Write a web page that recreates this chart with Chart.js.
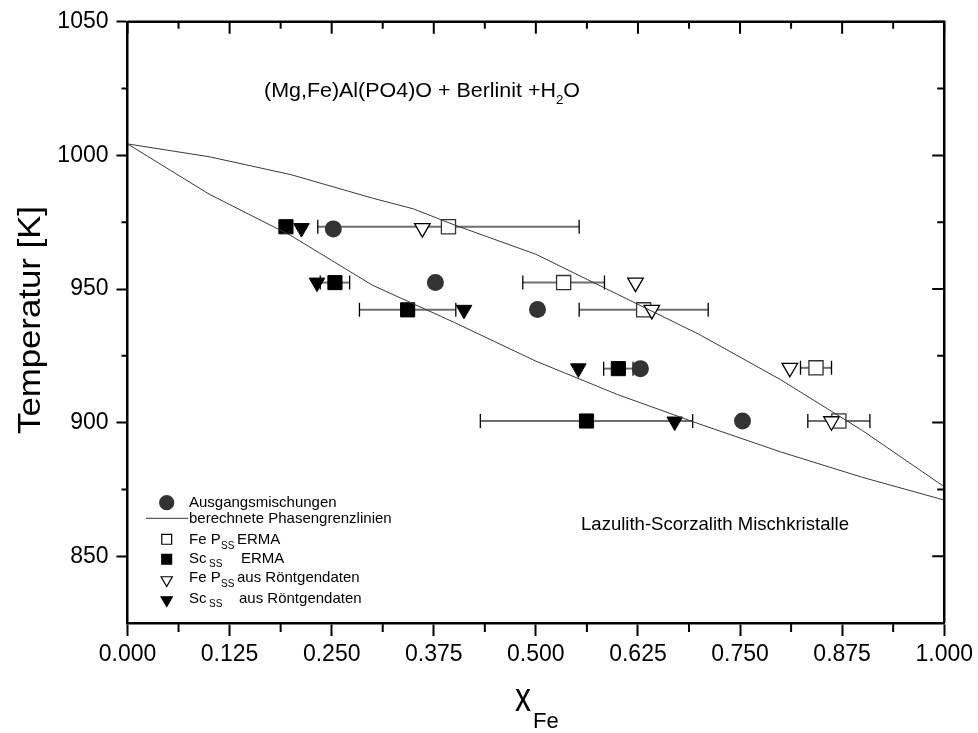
<!DOCTYPE html>
<html>
<head>
<meta charset="utf-8">
<script src="https://cdn.jsdelivr.net/npm/chart.js@4.4.1/dist/chart.umd.min.js"></script>
<style>
  html, body { margin: 0; padding: 0; background: #fff; }
  #wrap { width: 978px; height: 733px; }
</style>
</head>
<body>
<div id="wrap"><canvas id="myChart" width="978" height="733"></canvas></div>
<script>
// Ausgangsmischungen (Kreise)
const mixX = [0.252, 0.377, 0.502, 0.628, 0.753];
const mixT = [972.5, 952.4, 942.3, 920.2, 900.6];

// FeP_ss ERMA (offene Quadrate) mit Fehlerbalken
const fepErmaX = [0.393, 0.534, 0.632, 0.843, 0.871];
const fepErmaT = [973.3, 952.4, 942.2, 920.5, 900.6];
const fepErmaErr = [0.160, 0.050, 0.079, 0.019, 0.038];

// Sc_ss ERMA (volle Quadrate) mit Fehlerbalken
const scErmaX = [0.194, 0.254, 0.343, 0.601, 0.562];
const scErmaT = [973.3, 952.4, 942.2, 920.2, 900.6];
const scErmaErr = [0, 0.018, 0.059, 0.018, 0.130];

// aus Röntgendaten (Dreiecke)
const fepXrdX = [0.361, 0.622, 0.642, 0.811, 0.862];
const fepXrdT = [972.8, 952.4, 942.2, 920.5, 900.5];
const scXrdX = [0.213, 0.232, 0.412, 0.552, 0.670];
const scXrdT = [972.8, 952.4, 942.2, 920.3, 900.4];

// berechnete Phasengrenzlinien
const upperX = [0, 0.1, 0.2, 0.3, 0.35, 0.4, 0.5, 0.6, 0.7, 0.8, 0.9, 1.0];
const upperT = [1004.3, 999.5, 992.8, 984, 980, 974, 963, 948, 933, 916, 897, 876];
const lowerX = [0, 0.1, 0.2, 0.25, 0.3, 0.4, 0.5, 0.6, 0.7, 0.8, 0.9, 1.0];
const lowerT = [1004.3, 985.5, 970, 960.7, 951.4, 937.5, 923, 910.5, 899.5, 889, 879.5, 871];

const xTicks = [0, 0.125, 0.25, 0.375, 0.5, 0.625, 0.75, 0.875, 1.0];
const yTicks = [850, 900, 950, 1000, 1050];

const FONT = '"Liberation Sans", Arial, sans-serif';

function pts(xs, ys) {
    return xs.map((x, i) => ({ x: x, y: ys[i] }));
}

// text with subscripts; parts = [[text, isSub], ...]
function richText(ctx, parts, x, y, size, width) {
    ctx.save();
    ctx.textBaseline = 'alphabetic';
    ctx.textAlign = 'left';
    ctx.fillStyle = '#000';
    let total = 0;
    parts.forEach(p => {
        ctx.font = (p[1] ? size * 0.62 : size) + 'px ' + FONT;
        total += ctx.measureText(p[0]).width;
    });
    const sx = width ? width / total : 1;
    ctx.translate(x, y);
    ctx.scale(sx, 1);
    let cx = 0;
    parts.forEach(p => {
        ctx.font = (p[1] ? size * 0.62 : size) + 'px ' + FONT;
        ctx.fillText(p[0], cx, p[1] ? size * 0.38 : 0);
        cx += ctx.measureText(p[0]).width;
    });
    ctx.restore();
}

function txt(ctx, s, x, y, size) {
    ctx.font = size + 'px ' + FONT;
    ctx.fillText(s, x, y);
}

const errorBars = {
    id: 'errorBars',
    beforeDatasetsDraw(chart) {
        const ctx = chart.ctx, xs = chart.scales.x, ys = chart.scales.y;
        const draw = (X, T, E) => {
            X.forEach((x, i) => {
                if (!E[i]) return;
                const y = ys.getPixelForValue(T[i]);
                const x0 = xs.getPixelForValue(x - E[i]);
                const x1 = xs.getPixelForValue(x + E[i]);
                ctx.strokeStyle = '#6e6e6e';
                ctx.lineWidth = 2;
                ctx.beginPath(); ctx.moveTo(x0, y); ctx.lineTo(x1, y); ctx.stroke();
                ctx.strokeStyle = '#000';
                ctx.lineWidth = 1.3;
                ctx.beginPath();
                ctx.moveTo(x0, y - 7); ctx.lineTo(x0, y + 7);
                ctx.moveTo(x1, y - 7); ctx.lineTo(x1, y + 7);
                ctx.stroke();
            });
        };
        ctx.save();
        draw(fepErmaX, fepErmaT, fepErmaErr);
        draw(scErmaX, scErmaT, scErmaErr);
        ctx.restore();
    }
};

const decor = {
    id: 'decor',
    afterDraw(chart) {
        const ctx = chart.ctx, xs = chart.scales.x, ys = chart.scales.y;
        const a = chart.chartArea;
        ctx.save();
        ctx.strokeStyle = '#000';
        // top and right frame
        ctx.lineWidth = 2.5;
        ctx.beginPath();
        ctx.moveTo(a.left, a.top); ctx.lineTo(a.right, a.top); ctx.lineTo(a.right, a.bottom);
        ctx.stroke();
        ctx.lineWidth = 2;
        ctx.beginPath();
        for (let v = 0; v <= 1.0001; v += 0.0625) {
            const px = xs.getPixelForValue(v);
            const major = Math.abs(v / 0.125 - Math.round(v / 0.125)) < 1e-6;
            ctx.moveTo(px, a.top); ctx.lineTo(px, a.top + (major ? 12 : 7));
            if (!major) { ctx.moveTo(px, a.bottom); ctx.lineTo(px, a.bottom + 9); }
        }
        for (let t = 850; t <= 1050; t += 25) {
            const py = ys.getPixelForValue(t);
            const major = t % 50 === 0;
            ctx.moveTo(a.right, py); ctx.lineTo(a.right - (major ? 12 : 7), py);
            if (!major) { ctx.moveTo(a.left, py); ctx.lineTo(a.left - 6, py); }
        }
        ctx.stroke();

        ctx.fillStyle = '#000';
        // annotations
        richText(ctx, [['(Mg,Fe)Al(PO4)O + Berlinit +H', false], ['2', true], ['O', false]], 264, 97, 19.5, 316);
        richText(ctx, [['Lazulith-Scorzalith Mischkristalle', false]], 581, 530, 18.5, 268);

        // axis titles
        ctx.save();
        ctx.translate(40, 320);
        ctx.rotate(-Math.PI / 2);
        richText(ctx, [['Temperatur [K]', false]], -114, 0, 32, 228);
        ctx.restore();

        ctx.save();
        ctx.translate(515, 711);
        ctx.scale(0.8, 1);
        ctx.font = '40px ' + FONT;
        ctx.fillText('x', 0, 0);
        ctx.restore();
        txt(ctx, 'Fe', 533, 728, 22);

        // legend
        const H = Chart.helpers;
        const mk = (style, r, rot, fill, stroke, x, y) => {
            ctx.fillStyle = fill; ctx.strokeStyle = stroke;
            ctx.lineWidth = 1.2;
            H.drawPoint(ctx, { pointStyle: style, radius: r, rotation: rot, borderWidth: 1.2 }, x, y);
        };
        mk('circle', 7, 0, '#333', '#333', 166.7, 502.7);
        ctx.strokeStyle = '#333'; ctx.lineWidth = 1;
        ctx.beginPath(); ctx.moveTo(146, 518.3); ctx.lineTo(188, 518.3); ctx.stroke();
        mk('rect', 7, 0, '#fff', '#000', 166.7, 539.3);
        mk('rect', 7, 0, '#000', '#000', 166.7, 559.3);
        mk('triangle', 6.5, 180, '#fff', '#000', 166.7, 580);
        mk('triangle', 6.5, 180, '#000', '#000', 166.7, 600);

        ctx.fillStyle = '#000';
        ctx.textAlign = 'left';
        ctx.textBaseline = 'alphabetic';
        const ls = 15, ss = 10;
        txt(ctx, 'Ausgangsmischungen', 189, 507, ls);
        txt(ctx, 'berechnete Phasengrenzlinien', 189, 523, ls);
        txt(ctx, 'Fe P', 189, 544, ls); txt(ctx, 'SS', 221, 548.5, ss); txt(ctx, 'ERMA', 237, 544, ls);
        txt(ctx, 'Sc', 189, 563, ls); txt(ctx, 'SS', 209, 567, ss); txt(ctx, 'ERMA', 241, 563, ls);
        txt(ctx, 'Fe P', 189, 582, ls); txt(ctx, 'SS', 221, 586.5, ss); txt(ctx, 'aus Röntgendaten', 237, 582, ls);
        txt(ctx, 'Sc', 189, 603, ls); txt(ctx, 'SS', 209, 607, ss); txt(ctx, 'aus Röntgendaten', 239, 603, ls);
        ctx.restore();
    }
};

const ctx = document.getElementById('myChart').getContext('2d');
new Chart(ctx, {
    type: 'scatter',
    data: {
        datasets: [
            {
                label: 'berechnete Phasengrenzlinien (oben)',
                data: pts(upperX, upperT),
                showLine: true, borderColor: '#3a3a3a', borderWidth: 1,
                pointRadius: 0, tension: 0, order: 0
            },
            {
                label: 'berechnete Phasengrenzlinien (unten)',
                data: pts(lowerX, lowerT),
                showLine: true, borderColor: '#3a3a3a', borderWidth: 1,
                pointRadius: 0, tension: 0, order: 0
            },
            {
                label: 'FeP ss aus Röntgendaten',
                data: pts(fepXrdX, fepXrdT),
                pointStyle: 'triangle', rotation: 180, pointRadius: 9,
                backgroundColor: '#fff', borderColor: '#000', borderWidth: 1.3, order: 1
            },
            {
                label: 'Sc ss aus Röntgendaten',
                data: pts(scXrdX, scXrdT),
                pointStyle: 'triangle', rotation: 180, pointRadius: 9,
                backgroundColor: '#000', borderColor: '#000', borderWidth: 1, order: 2
            },
            {
                label: 'FeP ss ERMA',
                data: pts(fepErmaX, fepErmaT),
                pointStyle: 'rect', pointRadius: 10,
                backgroundColor: '#fff', borderColor: '#333', borderWidth: 1.3, order: 3
            },
            {
                label: 'Sc ss ERMA',
                data: pts(scErmaX, scErmaT),
                pointStyle: 'rect', pointRadius: 10,
                backgroundColor: '#000', borderColor: '#000', borderWidth: 1, order: 4
            },
            {
                label: 'Ausgangsmischungen',
                data: pts(mixX, mixT),
                pointStyle: 'circle', pointRadius: 8.5,
                backgroundColor: '#333', borderColor: '#333', borderWidth: 0, order: 5
            }
        ]
    },
    options: {
        responsive: false,
        animation: false,
        devicePixelRatio: 1,
        events: [],
        layout: { padding: { left: 0, right: 31, top: 18, bottom: 0 } },
        plugins: { legend: { display: false }, tooltip: { enabled: false } },
        scales: {
            x: {
                type: 'linear', min: 0, max: 1,
                afterFit: s => { s.height = 110; },
                afterBuildTicks: s => { s.ticks = xTicks.map(v => ({ value: v })); },
                border: { display: true, color: '#000', width: 2.5 },
                grid: { display: true, drawOnChartArea: false, tickLength: 13, tickWidth: 2, tickColor: '#000' },
                ticks: {
                    color: '#000', padding: 5, maxRotation: 0,
                    font: { family: FONT, size: 23 },
                    callback: v => Number(v).toFixed(3)
                }
            },
            y: {
                type: 'linear', min: 825, max: 1050,
                afterFit: s => { s.width = 127.5; },
                afterBuildTicks: s => { s.ticks = yTicks.map(v => ({ value: v })); },
                border: { display: true, color: '#000', width: 2.5 },
                grid: { display: true, drawOnChartArea: false, tickLength: 11, tickWidth: 2, tickColor: '#000' },
                ticks: {
                    color: '#000', padding: 8,
                    font: { family: FONT, size: 23 },
                    callback: v => String(v)
                }
            }
        }
    },
    plugins: [errorBars, decor]
});
</script>
</body>
</html>
